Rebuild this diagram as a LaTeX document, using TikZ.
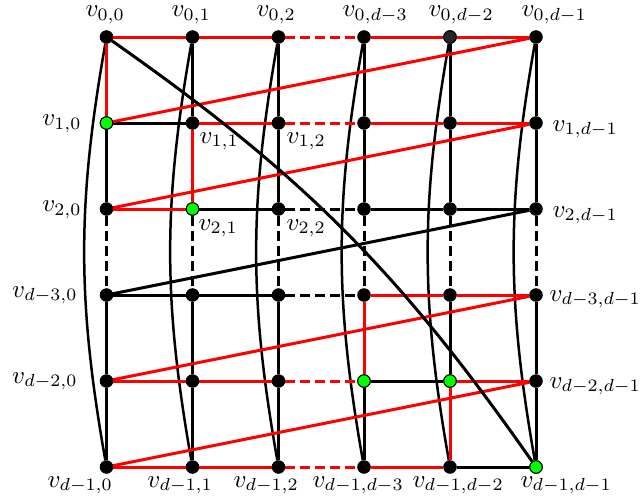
\documentclass[tikz,border=0pt]{standalone}
\pgfdeclarelayer{edges}
\pgfsetlayers{edges,main}
\begin{document}
\begin{tikzpicture}[x=0.4pt,y=-0.4pt,
  vtx/.style={circle,fill=black,draw=black,line width=0.4pt,inner sep=0pt,minimum size=5pt},
  gvtx/.style={vtx,fill=green},
  dvtx/.style={vtx,fill=black!85},
  lab/.style={inner sep=0pt},
  blk/.style={line width=1.2pt,black},
  rede/.style={line width=1.2pt,red},
  dsh/.style={dash pattern=on 4pt off 2pt},
  arcE/.style={line width=1pt,black,bend right=10}
]
\useasboundingbox (0,0) rectangle (641,502);
% vertices
\foreach \r/\y in {0/37,1/123,2/209,3/295,4/381,5/467}{
  \foreach \c/\x in {0/106.5,1/192.5,2/278.5,3/364,4/450,5/536}{
    \node[vtx] (n\r\c) at (\x,\y) {};
  }
}
\node[dvtx] (n04) at (450,37) {};
\node[gvtx] (n10) at (106.5,123) {};
\node[gvtx] (n21) at (192.5,209) {};
\node[gvtx] (n43) at (364,381) {};
\node[gvtx] (n44) at (450,381) {};
\node[gvtx] (n55) at (536,467) {};

\begin{pgfonlayer}{edges}
% curves
\foreach \c in {0,...,5}{
  \draw[arcE] (n0\c) to (n5\c);
}
% black grid edges
\draw[blk] (n10) -- (n11);
\draw[blk] (n21) -- (n22);
\draw[blk,dsh] (n22) -- (n23);
\draw[blk] (n23) -- (n24) -- (n25);
\draw[blk] (n30) -- (n31) -- (n32);
\draw[blk,dsh] (n32) -- (n33);
\draw[blk] (n43) -- (n44);
\draw[blk] (n54) -- (n55);
% black verticals
\draw[blk] (n10) -- (n20);
\draw[blk,dsh] (n20) -- (n30);
\draw[blk] (n30) -- (n40) -- (n50);
\draw[blk] (n01) -- (n11);
\draw[blk,dsh] (n21) -- (n31);
\draw[blk] (n31) -- (n41) -- (n51);
\draw[blk] (n02) -- (n12) -- (n22);
\draw[blk,dsh] (n22) -- (n32);
\draw[blk] (n32) -- (n42) -- (n52);
\draw[blk] (n03) -- (n13) -- (n23);
\draw[blk,dsh] (n23) -- (n33);
\draw[blk] (n43) -- (n53);
\draw[blk] (n04) -- (n14) -- (n24);
\draw[blk,dsh] (n24) -- (n34);
\draw[blk] (n34) -- (n44);
\draw[blk] (n05) -- (n15) -- (n25);
\draw[blk,dsh] (n25) -- (n35);
\draw[blk] (n35) -- (n45) -- (n55);
% red edges
\draw[rede] (n00) -- (n01) -- (n02);
\draw[rede,dsh] (n02) -- (n03);
\draw[rede] (n03) -- (n04) -- (n05);
\draw[rede] (n11) -- (n12);
\draw[rede,dsh] (n12) -- (n13);
\draw[rede] (n13) -- (n14) -- (n15);
\draw[rede] (n20) -- (n21);
\draw[rede] (n33) -- (n34) -- (n35);
\draw[rede] (n40) -- (n41) -- (n42);
\draw[rede,dsh] (n42) -- (n43);
\draw[rede] (n44) -- (n45);
\draw[rede] (n50) -- (n51) -- (n52);
\draw[rede,dsh] (n52) -- (n53);
\draw[rede] (n53) -- (n54);
\draw[rede] (n00) -- (n10);
\draw[rede] (n11) -- (n21);
\draw[rede] (n33) -- (n43);
\draw[rede] (n44) -- (n54);
% wrap diagonals
\draw[rede] (n10) -- (n05);
\draw[rede] (n20) -- (n15);
\draw[blk] (n30) -- (n25);
\draw[rede] (n40) -- (n35);
\draw[rede] (n50) -- (n45);
% main diagonal
\draw[blk] (n00) to[bend left=10] (n55);
\end{pgfonlayer}

% labels
\node[lab,anchor=base west] (l00) at (85,16.5) {$v_{0,0}$};
\node[lab,anchor=base west] (l01) at (171,16.5) {$v_{0,1}$};
\node[lab,anchor=base west] (l02) at (256,16.5) {$v_{0,2}$};
\node[lab,anchor=base west] (l03) at (342,16.5) {$v_{0,d-3}$};
\node[lab,anchor=base west] (l04) at (428,16.5) {$v_{0,d-2}$};
\node[lab,anchor=base west] (l05) at (521,16.5) {$v_{0,d-1}$};

\node[lab,anchor=base east] (l10) at (82,125.5) {$v_{1,0}$};
\node[lab,anchor=base east] (l20) at (82,211.5) {$v_{2,0}$};
\node[lab,anchor=base east] (l30) at (78,297) {$v_{d-3,0}$};
\node[lab,anchor=base east] (l40) at (78,383) {$v_{d-2,0}$};

\node[lab,anchor=base west] (l15) at (552,131) {$v_{1,d-1}$};
\node[lab,anchor=base west] (l25) at (552,217) {$v_{2,d-1}$};
\node[lab,anchor=base west] (l35) at (549,301) {$v_{d-3,d-1}$};
\node[lab,anchor=base west] (l45) at (549,388) {$v_{d-2,d-1}$};

\node[lab,anchor=base west] (l11) at (199,143) {$v_{1,1}$};
\node[lab,anchor=base west] (l12) at (286,143) {$v_{1,2}$};
\node[lab,anchor=base west] (l21) at (198,230) {$v_{2,1}$};
\node[lab,anchor=base west] (l22) at (286,230) {$v_{2,2}$};

\node[lab,anchor=base west] (l50) at (47,487) {$v_{d-1,0}$};
\node[lab,anchor=base west] (l51) at (147,487) {$v_{d-1,1}$};
\node[lab,anchor=base west] (l52) at (233,487) {$v_{d-1,2}$};
\node[lab,anchor=base west] (l53) at (312,487) {$v_{d-1,d-3}$};
\node[lab,anchor=base west] (l54) at (412,487) {$v_{d-1,d-2}$};
\node[lab,anchor=base west] (l55) at (520,487) {$v_{d-1,d-1}$};
\end{tikzpicture}
\end{document}
